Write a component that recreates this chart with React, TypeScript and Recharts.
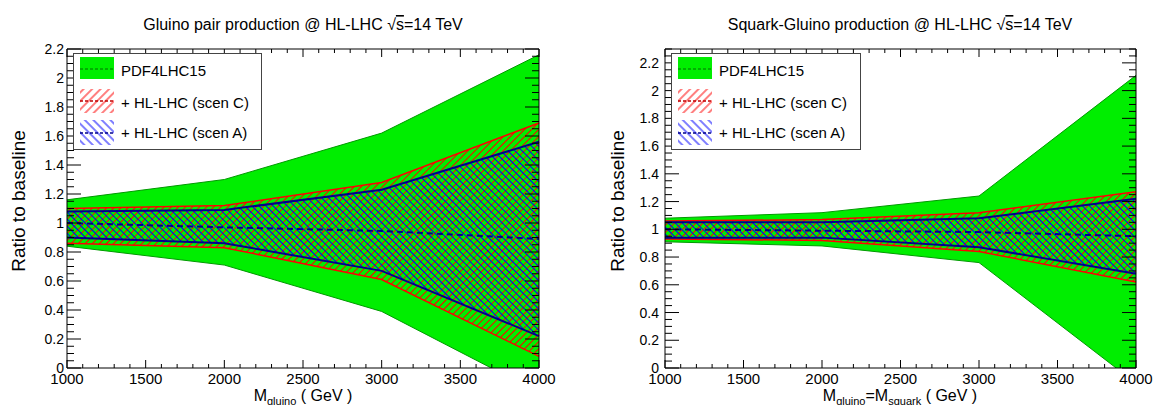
import React from "react";
import { ComposedChart, Area, Line, XAxis, YAxis } from "recharts";

// gluino masses (GeV) where the bands are evaluated
const masses = [1000, 2000, 3000, 4000];

// Gluino pair production
const gluinoPdfLow = [0.84, 0.71, 0.39, -0.17];
const gluinoPdfHigh = [1.16, 1.3, 1.62, 2.16];
const gluinoScenCLow = [0.86, 0.83, 0.61, 0.08];
const gluinoScenCHigh = [1.1, 1.12, 1.28, 1.69];
const gluinoScenALow = [0.9, 0.86, 0.67, 0.22];
const gluinoScenAHigh = [1.08, 1.09, 1.23, 1.56];
const gluinoCentral = [1.0, 0.97, 0.945, 0.89];

// Squark-gluino production
const sqglPdfLow = [0.91, 0.88, 0.76, -0.11];
const sqglPdfHigh = [1.08, 1.12, 1.24, 2.11];
const sqglScenCLow = [0.93, 0.92, 0.84, 0.62];
const sqglScenCHigh = [1.06, 1.07, 1.12, 1.27];
const sqglScenALow = [0.94, 0.94, 0.87, 0.68];
const sqglScenAHigh = [1.05, 1.05, 1.08, 1.22];
const sqglCentral = [1.0, 0.99, 0.98, 0.95];

const legendLabels = ["PDF4LHC15", "+ HL-LHC (scen C)", "+ HL-LHC (scen A)"];

const GREEN = "#00ee00";
const GREEN_LINE = "#009a00";
const RED = "#ff0000";
const BLUE = "#0000ff";
const NAVY = "#00008c";
const FONT = "'Liberation Sans', Arial, Helvetica, sans-serif";

const steps = (from: number, to: number, step: number) => {
  const out: number[] = [];
  const n = Math.round((to - from) / step);
  for (let i = 0; i <= n; i++) out.push(Number((from + i * step).toFixed(3)));
  return out;
};

const xTicks = steps(1000, 4000, 100);

const buildRows = (
  low: number[],
  high: number[],
  cLow: number[],
  cHigh: number[],
  aLow: number[],
  aHigh: number[],
  central: number[]
) =>
  masses.map((m, i) => ({
    m,
    pdf: [low[i], high[i]],
    scenC: [cLow[i], cHigh[i]],
    scenA: [aLow[i], aHigh[i]],
    central: central[i],
  }));

const XTick = (props: any) => {
  const { x, y, payload, side } = props;
  const v = payload.value;
  const major = v % 500 === 0;
  const len = major ? 8 : 4;
  const dir = side === "top" ? 1 : -1;
  return (
    <g>
      <line x1={x} y1={y} x2={x} y2={y + dir * len} stroke="#000" strokeWidth={1} />
      {side === "bottom" && major && (
        <text x={x} y={y + 16} textAnchor="middle" fontSize={15} fill="#000" fontFamily={FONT}>
          {v}
        </text>
      )}
    </g>
  );
};

const YTick = (props: any) => {
  const { x, y, payload, side, gap } = props;
  const v = payload.value;
  const major = Math.abs(v / 0.2 - Math.round(v / 0.2)) < 1e-6;
  const len = major ? 14 : 7;
  const dir = side === "left" ? 1 : -1;
  return (
    <g>
      <line x1={x} y1={y} x2={x + dir * len} y2={y} stroke="#000" strokeWidth={1} />
      {side === "left" && major && (
        <text x={x - gap} y={y} dy="0.36em" textAnchor="end" fontSize={14} fill="#000" fontFamily={FONT}>
          {String(Number(v.toFixed(1)))}
        </text>
      )}
    </g>
  );
};

const Hatches = ({ uid, size }: { uid: string; size: number }) => (
  <defs>
    <pattern id={`hc-${uid}`} patternUnits="userSpaceOnUse" width={size} height={size} patternTransform="rotate(45)">
      <line x1={size / 2} y1={0} x2={size / 2} y2={size} stroke={RED} strokeWidth={1} />
    </pattern>
    <pattern id={`ha-${uid}`} patternUnits="userSpaceOnUse" width={size} height={size} patternTransform="rotate(-45)">
      <line x1={size / 2} y1={0} x2={size / 2} y2={size} stroke={BLUE} strokeWidth={1} />
    </pattern>
  </defs>
);

const LegendBox = ({ left, top, width, uid }: { left: number; top: number; width: number; uid: string }) => (
  <svg style={{ position: "absolute", left, top }} width={width} height={97}>
    <Hatches uid={uid} size={6} />
    <rect x={0.5} y={0.5} width={width - 1} height={96} fill="#fff" stroke="#444" />
    <rect x={7} y={4} width={34} height={22} fill={GREEN} />
    <line x1={7} x2={41} y1={16} y2={16} stroke={GREEN_LINE} strokeWidth={1.5} strokeDasharray="3 2" />
    <rect x={7} y={36} width={34} height={24} fill={`url(#hc-${uid})`} />
    <line x1={7} x2={41} y1={48} y2={48} stroke="#c00000" strokeWidth={1.5} strokeDasharray="3 2" />
    <rect x={7} y={67} width={34} height={25} fill={`url(#ha-${uid})`} />
    <line x1={7} x2={41} y1={80} y2={80} stroke={NAVY} strokeWidth={1.5} strokeDasharray="3 2" />
    {legendLabels.map((t, i) => (
      <text key={t} x={48} y={[23, 55, 85][i]} fontSize={15} fontFamily={FONT} fill="#000">
        {t}
      </text>
    ))}
  </svg>
);

type PanelProps = {
  uid: string;
  left: number;
  width: number;
  plotLeft: number;
  plotRight: number;
  yMax: number;
  labelGap: number;
  rows: any[];
};

const Panel = ({ uid, left, width, plotLeft, plotRight, yMax, labelGap, rows }: PanelProps) => {
  const yTicks = steps(0, Math.floor(yMax / 0.05 + 1e-6) * 0.05, 0.05);
  return (
    <div style={{ position: "absolute", left, top: 0 }}>
      <ComposedChart
        width={width}
        height={405}
        data={rows}
        margin={{ top: 48, bottom: 36, left: plotLeft - left - 1, right: left + width - plotRight - 1 }}
      >
        <Hatches uid={uid} size={5} />
        <Area
          type="linear"
          dataKey="pdf"
          fill={GREEN}
          fillOpacity={1}
          stroke={GREEN_LINE}
          strokeWidth={1}
          isAnimationActive={false}
        />
        <Area
          type="linear"
          dataKey="scenC"
          fill={`url(#hc-${uid})`}
          fillOpacity={1}
          stroke={RED}
          strokeWidth={1.5}
          isAnimationActive={false}
        />
        <Area
          type="linear"
          dataKey="scenA"
          fill={`url(#ha-${uid})`}
          fillOpacity={1}
          stroke={NAVY}
          strokeWidth={2}
          isAnimationActive={false}
        />
        <Line
          type="linear"
          dataKey="central"
          stroke={NAVY}
          strokeWidth={2}
          strokeDasharray="6 4"
          dot={false}
          isAnimationActive={false}
        />
        <XAxis
          dataKey="m"
          type="number"
          domain={[1000, 4000]}
          ticks={xTicks}
          interval={0}
          height={1}
          tickSize={0}
          tickMargin={0}
          tickLine={false}
          axisLine={{ stroke: "#000" }}
          tick={<XTick side="bottom" />}
        />
        <XAxis
          xAxisId="top"
          orientation="top"
          dataKey="m"
          type="number"
          domain={[1000, 4000]}
          ticks={xTicks}
          interval={0}
          height={1}
          tickSize={0}
          tickMargin={0}
          tickLine={false}
          axisLine={{ stroke: "#000" }}
          tick={<XTick side="top" />}
        />
        <YAxis
          type="number"
          domain={[0, yMax]}
          allowDataOverflow
          ticks={yTicks}
          interval={0}
          width={1}
          tickSize={0}
          tickMargin={0}
          tickLine={false}
          axisLine={{ stroke: "#000" }}
          tick={<YTick side="left" gap={labelGap} />}
        />
        <YAxis
          yAxisId="right"
          orientation="right"
          type="number"
          domain={[0, yMax]}
          allowDataOverflow
          ticks={yTicks}
          interval={0}
          width={1}
          tickSize={0}
          tickMargin={0}
          tickLine={false}
          axisLine={{ stroke: "#000" }}
          tick={<YTick side="right" gap={labelGap} />}
        />
      </ComposedChart>
    </div>
  );
};

const Titles = () => (
  <svg
    style={{ position: "absolute", left: 0, top: 0, pointerEvents: "none" }}
    width={1153}
    height={405}
    fontFamily={FONT}
  >
    <text x={303} y={30} textAnchor="middle" fontSize={16}>
      Gluino pair production @ HL-LHC √<tspan style={{ textDecoration: "overline" }}>s</tspan>=14 TeV
    </text>
    <text x={900} y={30} textAnchor="middle" fontSize={16}>
      Squark-Gluino production @ HL-LHC √<tspan style={{ textDecoration: "overline" }}>s</tspan>=14 TeV
    </text>
    <text transform="translate(25,201) rotate(-90)" textAnchor="middle" fontSize={19}>
      Ratio to baseline
    </text>
    <text transform="translate(624,201) rotate(-90)" textAnchor="middle" fontSize={19}>
      Ratio to baseline
    </text>
    <text x={303} y={401} textAnchor="middle" fontSize={16}>
      M<tspan fontSize={11} dy={4}>gluino</tspan>
      <tspan dy={-4}> ( GeV )</tspan>
    </text>
    <text x={900} y={401} textAnchor="middle" fontSize={16}>
      M<tspan fontSize={11} dy={4}>gluino</tspan>
      <tspan dy={-4}>=M</tspan>
      <tspan fontSize={11} dy={4}>squark</tspan>
      <tspan dy={-4}> ( GeV )</tspan>
    </text>
  </svg>
);

export default function App() {
  const gluinoRows = buildRows(
    gluinoPdfLow,
    gluinoPdfHigh,
    gluinoScenCLow,
    gluinoScenCHigh,
    gluinoScenALow,
    gluinoScenAHigh,
    gluinoCentral
  );
  const sqglRows = buildRows(
    sqglPdfLow,
    sqglPdfHigh,
    sqglScenCLow,
    sqglScenCHigh,
    sqglScenALow,
    sqglScenAHigh,
    sqglCentral
  );
  return (
    <div
      style={{
        position: "absolute",
        left: 0,
        top: 0,
        width: 1153,
        height: 405,
        background: "#fff",
        fontFamily: FONT,
        overflow: "hidden",
      }}
    >
      <Panel uid="gl" left={0} width={576} plotLeft={67} plotRight={539} yMax={2.2} labelGap={3} rows={gluinoRows} />
      <Panel uid="sg" left={576} width={577} plotLeft={665} plotRight={1136} yMax={2.3} labelGap={6} rows={sqglRows} />
      <LegendBox left={73} top={53} width={189} uid="lgl" />
      <LegendBox left={671} top={53} width={190} uid="lsg" />
      <Titles />
    </div>
  );
}
